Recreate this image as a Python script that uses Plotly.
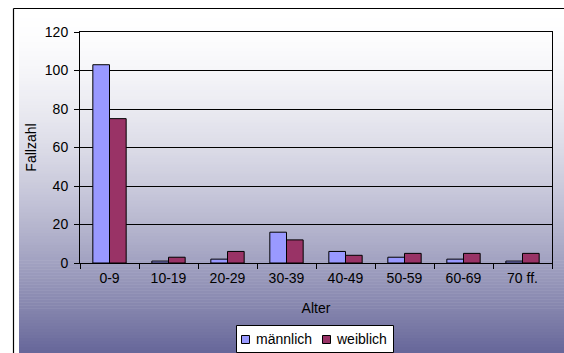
import plotly.graph_objects as go

# Age groups and case counts by sex
altersgruppen = ["0-9", "10-19", "20-29", "30-39", "40-49", "50-59", "60-69", "70 ff."]
maennlich = [103, 1, 2, 16, 6, 3, 2, 1]
weiblich = [75, 3, 6, 12, 4, 5, 5, 5]
serien = ["männlich", "weiblich"]
farben = ["#9999FF", "#993366"]

W, H = 564, 353
ML, MR, MT, MB = 80, 12, 32, 90
PW, PH = W - ML - MR, H - MT - MB

FONT = "Liberation Sans, Arial, sans-serif"
FS = 14


def px_x(x):
    return (x - ML) / PW


def px_y(y):
    return (H - MB - y) / PH


fig = go.Figure()
for name, werte, farbe in zip(serien, [maennlich, weiblich], farben):
    fig.add_bar(x=altersgruppen, y=werte, name=name, showlegend=False,
                marker=dict(color=farbe, line=dict(color="black", width=1)))

# Vertical gradient behind the chart: white at the top to slate blue at the bottom
shapes = []
top, bottom = 9, H
x0, x1 = 19, W
steps = 115
c0 = (255, 255, 255)
c1 = (102, 102, 153)
band = (bottom - top) / steps
for i in range(steps):
    ya = top + i * band
    yb = ya + band + 0.6
    t = ((i + 0.5) / steps) ** 1.6
    col = tuple(round(a + (b - a) * t) for a, b in zip(c0, c1))
    shapes.append(dict(type="rect", xref="paper", yref="paper", layer="below",
                       x0=px_x(x0), x1=px_x(x1), y0=px_y(yb), y1=px_y(ya),
                       line=dict(width=0), fillcolor="rgb(%d,%d,%d)" % col))
# Outer frame lines (left and top)
shapes.append(dict(type="line", xref="paper", yref="paper", layer="above",
                   x0=px_x(13.5), x1=px_x(13.5), y0=px_y(H + 2), y1=px_y(8.5),
                   line=dict(color="black", width=1.2)))
shapes.append(dict(type="line", xref="paper", yref="paper", layer="above",
                   x0=px_x(13.5), x1=px_x(W + 2), y0=px_y(8.5), y1=px_y(8.5),
                   line=dict(color="black", width=1.2)))

# Legend box with a colour key per series
annotations = []
shapes.append(dict(type="rect", xref="paper", yref="paper", layer="above",
                   x0=px_x(236.5), x1=px_x(393.5), y0=px_y(352.5), y1=px_y(325.5),
                   fillcolor="white", line=dict(color="black", width=1)))
leg_sym_x = [241, 322]
leg_txt_x = [254, 334]
for name, farbe, sx, tx in zip(serien, farben, leg_sym_x, leg_txt_x):
    shapes.append(dict(type="rect", xref="paper", yref="paper", layer="above",
                       x0=px_x(sx + 0.5), x1=px_x(sx + 8.5), y0=px_y(343.5), y1=px_y(335.5),
                       fillcolor=farbe, line=dict(color="black", width=1)))
    annotations.append(dict(text=name, xref="paper", yref="paper", showarrow=False,
                            x=px_x(tx), y=px_y(339), xanchor="left", yanchor="middle",
                            font=dict(family=FONT, size=FS, color="black")))

fig.update_layout(
    width=W, height=H,
    margin=dict(l=ML, r=MR, t=MT, b=MB, autoexpand=False),
    paper_bgcolor="white",
    plot_bgcolor="rgba(0,0,0,0)",
    font=dict(family=FONT, size=FS, color="black"),
    barmode="group",
    bargap=0.435,
    bargroupgap=0,
    shapes=shapes,
    annotations=annotations,
    showlegend=False,
    xaxis=dict(
        type="category", showline=True, linecolor="black", linewidth=1, mirror=True,
        ticks="outside", tickson="boundaries", ticklen=5, tickcolor="black",
        ticklabelstandoff=2, showgrid=False, automargin=False,
        title=dict(text="Alter", standoff=18, font=dict(size=FS)),
        tickfont=dict(size=FS),
    ),
    yaxis=dict(
        range=[0, 120], dtick=20, showline=True, linecolor="black", linewidth=1, mirror=True,
        ticks="outside", ticklen=5, tickcolor="black", ticklabelstandoff=3,
        showgrid=True, gridcolor="black", gridwidth=1, zeroline=False, automargin=False,
        title=dict(text="Fallzahl", standoff=4, font=dict(size=FS)),
        tickfont=dict(size=FS),
    ),
)

fig.write_html("out.html")
